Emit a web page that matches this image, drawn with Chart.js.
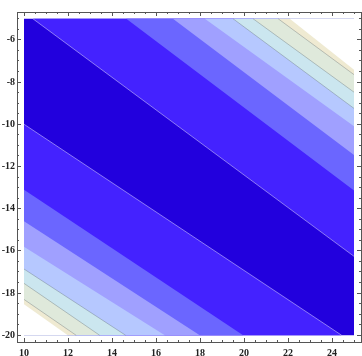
<!DOCTYPE html>
<html>
<head>
<meta charset="utf-8">
<script src="https://cdn.jsdelivr.net/npm/chart.js@4.4.1/dist/chart.umd.min.js"></script>
<style>
  html, body { margin: 0; padding: 0; background: #fff; }
</style>
</head>
<body>
<canvas id="myChart" width="362" height="356"></canvas>
<script>
// plotted region
const xRange = [10, 25];
const yRange = [-20, -5];

// labelled ticks
const xTicks = [10, 12, 14, 16, 18, 20, 22, 24];
const yTicks = [-20, -18, -16, -14, -12, -10, -8, -6];

// band colours, from the dark middle band outwards (last one is the empty corner)
const bandColors = ['#2200dd', '#4422ff', '#6b66ff', '#a0a0ff', '#b6c8ff', '#cbe6ef', '#dfe9db', '#efead2', '#ffffff'];

// upper-right contours: x where each meets the top edge, y where it meets the right edge
const upperTopX = [10.40, 14.65, 16.77, 18.22, 19.50, 20.41, 21.55, 22.08];
const upperRightY = [-16.26, -13.14, -11.46, -10.09, -9.25, -8.48, -7.65, -7.42];

// lower-left contours: y where each meets the left edge, x where it meets the bottom edge
const lowerLeftY = [-10.0, -13.1, -14.6, -15.8, -16.86, -17.54, -18.30, -18.53];
const lowerBottomX = [24.44, 19.96, 17.99, 16.4, 14.62, 13.44, 12.37, 11.99];

// visible contour lines (null = none)
const lineColors = ['rgba(255,255,255,0.55)', null, null, null,
                    'rgba(90,100,110,0.45)', 'rgba(90,100,110,0.45)', 'rgba(90,100,110,0.45)', null];

const [x0, x1] = xRange;
const [y0, y1] = yRange;
const pad = 7 / 22;   // white margin inside the frame, in data units

function poly(points, color) {
    return {
        data: points.concat([points[0]]),
        showLine: true,
        fill: 'shape',
        backgroundColor: color,
        borderWidth: 0,
        pointRadius: 0,
    };
}

function contour(a, b, color) {
    return {
        data: [a, b],
        showLine: true,
        fill: false,
        borderColor: color,
        borderWidth: 0.8,
        pointRadius: 0,
    };
}

const datasets = [];
datasets.push(poly([{x: x0, y: y1}, {x: x1, y: y1}, {x: x1, y: y0}, {x: x0, y: y0}], bandColors[0]));
for (let k = 0; k < upperTopX.length; k++) {
    datasets.push(poly([{x: upperTopX[k], y: y1}, {x: x1, y: y1}, {x: x1, y: upperRightY[k]}], bandColors[k + 1]));
    datasets.push(poly([{x: x0, y: lowerLeftY[k]}, {x: lowerBottomX[k], y: y0}, {x: x0, y: y0}], bandColors[k + 1]));
}
for (let k = 0; k < lineColors.length; k++) {
    if (!lineColors[k]) continue;
    datasets.push(contour({x: upperTopX[k], y: y1}, {x: x1, y: upperRightY[k]}, lineColors[k]));
    datasets.push(contour({x: x0, y: lowerLeftY[k]}, {x: lowerBottomX[k], y: y0}, lineColors[k]));
}
// later datasets go on top
datasets.forEach((d, i) => { d.order = datasets.length - i; });

function halfSteps(a, b) {
    const out = [];
    for (let v = a; v <= b + 1e-9; v += 0.5) out.push(v);
    return out;
}

const frameColor = '#555';

function makeAxis(position, values, len, labels, weight) {
    const horizontal = position === 'top' || position === 'bottom';
    return {
        type: 'linear',
        position: position,
        weight: weight,
        min: horizontal ? x0 - pad : y0 - pad,
        max: horizontal ? x1 + pad : y1 + pad,
        afterBuildTicks: s => { s.ticks = values.map(v => ({value: v})); },
        afterFit: s => {
            if (horizontal) s.height = labels ? 14 : 0;
            else s.width = labels ? 17 : 0;
        },
        grid: { drawOnChartArea: false, drawTicks: true, tickLength: -len, color: frameColor, z: 1 },
        border: { display: weight === 1, color: frameColor, width: 1, z: 1 },
        ticks: {
            display: labels,
            padding: horizontal ? 9 : 6,
            color: '#222',
            font: { family: 'Liberation Serif', size: 10, weight: 'bold' },
            maxRotation: 0,
            autoSkip: false,
        },
    };
}

new Chart(document.getElementById('myChart'), {
    type: 'scatter',
    data: { datasets: datasets },
    options: {
        responsive: false,
        animation: false,
        devicePixelRatio: 1,
        layout: { padding: { top: 0, right: 1, left: 0, bottom: 0 } },
        plugins: { legend: { display: false }, tooltip: { enabled: false } },
        scales: {
            x: makeAxis('bottom', xTicks, 4, true, 1),
            xMinor: makeAxis('bottom', halfSteps(x0, x1), 2, false, 0),
            xTop: makeAxis('top', xTicks, 4, false, 1),
            xTopMinor: makeAxis('top', halfSteps(x0, x1), 2, false, 0),
            y: makeAxis('left', yTicks, 4, true, 1),
            yMinor: makeAxis('left', halfSteps(y0, y1), 2, false, 0),
            yRight: makeAxis('right', yTicks, 4, false, 1),
            yRightMinor: makeAxis('right', halfSteps(y0, y1), 2, false, 0),
        },
    },
});
</script>
</body>
</html>
